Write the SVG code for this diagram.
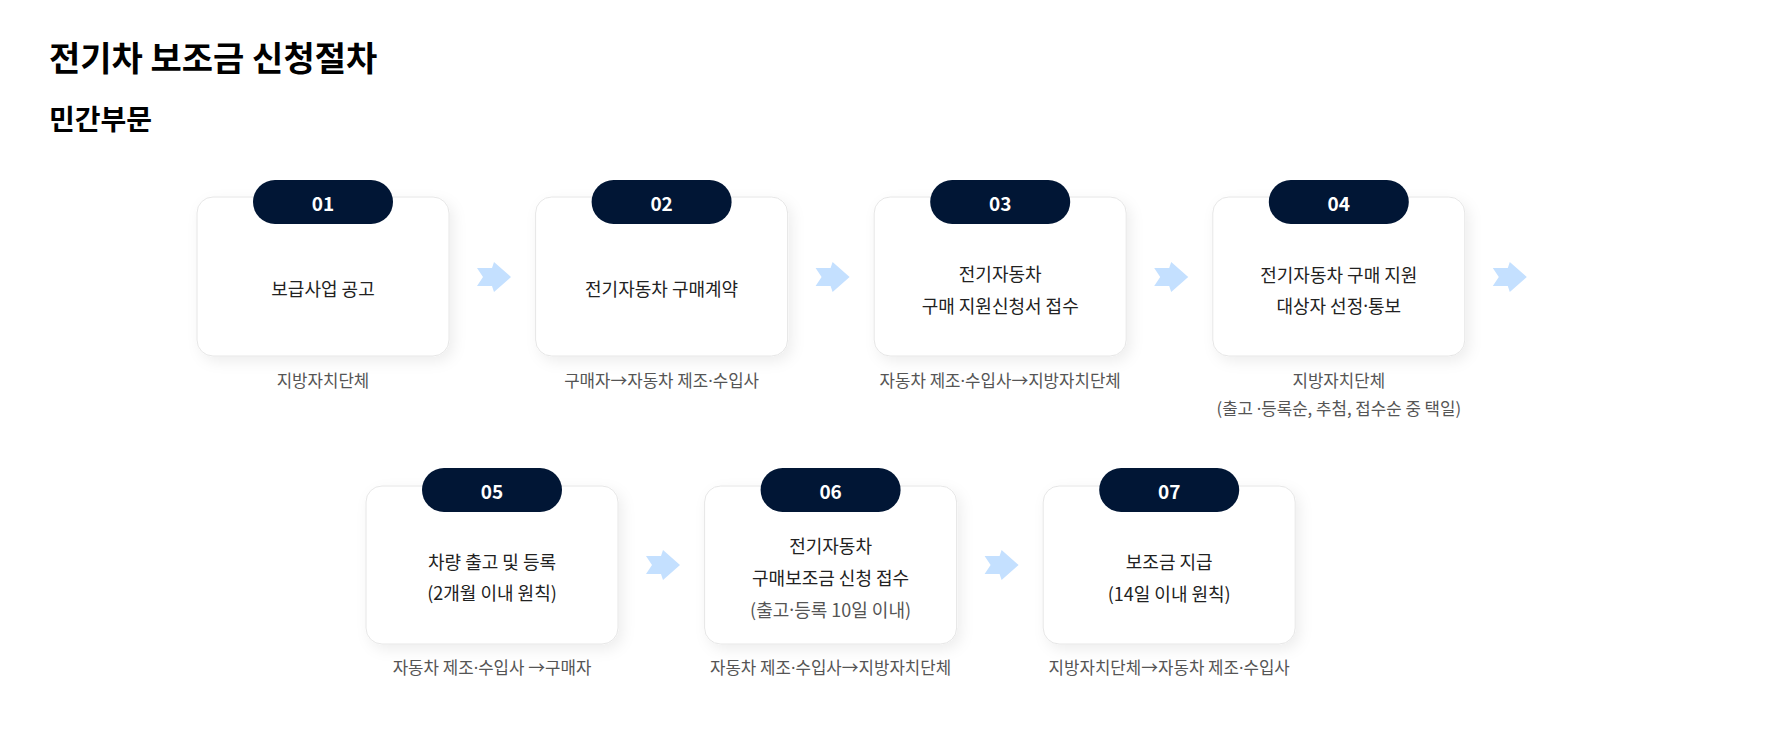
<svg xmlns="http://www.w3.org/2000/svg" width="1776" height="745" viewBox="0 0 1776 745">
<defs>
<filter id="sh" x="-20%" y="-20%" width="150%" height="150%">
<feDropShadow dx="4" dy="5" stdDeviation="7" flood-color="#000" flood-opacity="0.07"/>
</filter>
<path id="arr" d="M0,6 L15,6 L17,0 L34,15 L17,30 L15,24 L0,24 L6,15 Z"/>
</defs>
<style>
text{font-family:"Noto Sans CJK KR","Noto Sans",sans-serif;}
.box{fill:#fff;stroke:#e6e6e6;stroke-width:1;filter:url(#sh);}
.pill{fill:#011635;}
.num{fill:#fff;font-size:19px;font-weight:700;text-anchor:middle;dominant-baseline:central;}
.main{fill:#222;font-size:18px;text-anchor:middle;dominant-baseline:central;}
.note{fill:#555;font-size:18px;text-anchor:middle;dominant-baseline:central;}
.sub{fill:#555;font-size:16.8px;text-anchor:middle;dominant-baseline:central;}
.d{font-family:"Noto Sans",sans-serif;}
.ar{fill:#c4e0ff;}
</style>
<rect width="1776" height="745" fill="#fff"/>
<text x="49" y="56" font-size="34" font-weight="700" fill="#000" dominant-baseline="central">전기차 보조금 신청절차</text>
<text x="49" y="118" font-size="28" font-weight="700" fill="#000" dominant-baseline="central">민간부문</text>

<g id="connectors">
<use href="#arr" class="ar" x="477" y="262"/>
<use href="#arr" class="ar" x="815.6" y="262"/>
<use href="#arr" class="ar" x="1154.2" y="262"/>
<use href="#arr" class="ar" x="1492.8" y="262"/>
<use href="#arr" class="ar" x="646" y="550"/>
<use href="#arr" class="ar" x="984.6" y="550"/>
</g>

<g id="node01">
<rect class="box" x="197" y="197" width="252" height="159" rx="16"/>
<rect class="pill" x="253" y="180" width="140" height="44" rx="22"/>
<text class="num" x="323" y="202">01</text>
<text class="main" x="323" y="288">보급사업 공고</text>
<text class="sub" x="323" y="380">지방자치단체</text>
</g>
<g id="node02">
<rect class="box" x="535.6" y="197" width="252" height="159" rx="16"/>
<rect class="pill" x="591.6" y="180" width="140" height="44" rx="22"/>
<text class="num" x="661.6" y="202">02</text>
<text class="main" x="661.6" y="288">전기자동차 구매계약</text>
<text class="sub" x="661.6" y="380">구매자→자동차 제조<tspan class="d">·</tspan>수입사</text>
</g>
<g id="node03">
<rect class="box" x="874.2" y="197" width="252" height="159" rx="16"/>
<rect class="pill" x="930.2" y="180" width="140" height="44" rx="22"/>
<text class="num" x="1000.2" y="202">03</text>
<text class="main" x="1000.2" y="273">전기자동차</text>
<text class="main" x="1000.2" y="305">구매 지원신청서 접수</text>
<text class="sub" x="1000.2" y="380">자동차 제조<tspan class="d">·</tspan>수입사→지방자치단체</text>
</g>
<g id="node04">
<rect class="box" x="1212.8" y="197" width="252" height="159" rx="16"/>
<rect class="pill" x="1268.8" y="180" width="140" height="44" rx="22"/>
<text class="num" x="1338.8" y="202">04</text>
<text class="main" x="1338.8" y="274">전기자동차 구매 지원</text>
<text class="main" x="1338.8" y="305">대상자 선정<tspan class="d">·</tspan>통보</text>
<text class="sub" x="1338.8" y="380">지방자치단체</text>
<text class="sub" x="1338.8" y="408">(출고 <tspan class="d">·</tspan>등록순, 추첨, 접수순 중 택일)</text>
</g>
<g id="node05">
<rect class="box" x="366" y="486" width="252" height="158" rx="16"/>
<rect class="pill" x="422" y="468" width="140" height="44" rx="22"/>
<text class="num" x="492" y="490">05</text>
<text class="main" x="492" y="561">차량 출고 및 등록</text>
<text class="main" x="492" y="592">(2개월 이내 원칙)</text>
<text class="sub" x="492" y="667">자동차 제조<tspan class="d">·</tspan>수입사 →구매자</text>
</g>
<g id="node06">
<rect class="box" x="704.6" y="486" width="252" height="158" rx="16"/>
<rect class="pill" x="760.6" y="468" width="140" height="44" rx="22"/>
<text class="num" x="830.6" y="490">06</text>
<text class="main" x="830.6" y="545">전기자동차</text>
<text class="main" x="830.6" y="577">구매보조금 신청 접수</text>
<text class="note" x="830.6" y="609">(출고<tspan class="d">·</tspan>등록 10일 이내)</text>
<text class="sub" x="830.6" y="667">자동차 제조<tspan class="d">·</tspan>수입사→지방자치단체</text>
</g>
<g id="node07">
<rect class="box" x="1043.2" y="486" width="252" height="158" rx="16"/>
<rect class="pill" x="1099.2" y="468" width="140" height="44" rx="22"/>
<text class="num" x="1169.2" y="490">07</text>
<text class="main" x="1169.2" y="561">보조금 지급</text>
<text class="main" x="1169.2" y="593">(14일 이내 원칙)</text>
<text class="sub" x="1169.2" y="667">지방자치단체→자동차 제조<tspan class="d">·</tspan>수입사</text>
</g>
</svg>
